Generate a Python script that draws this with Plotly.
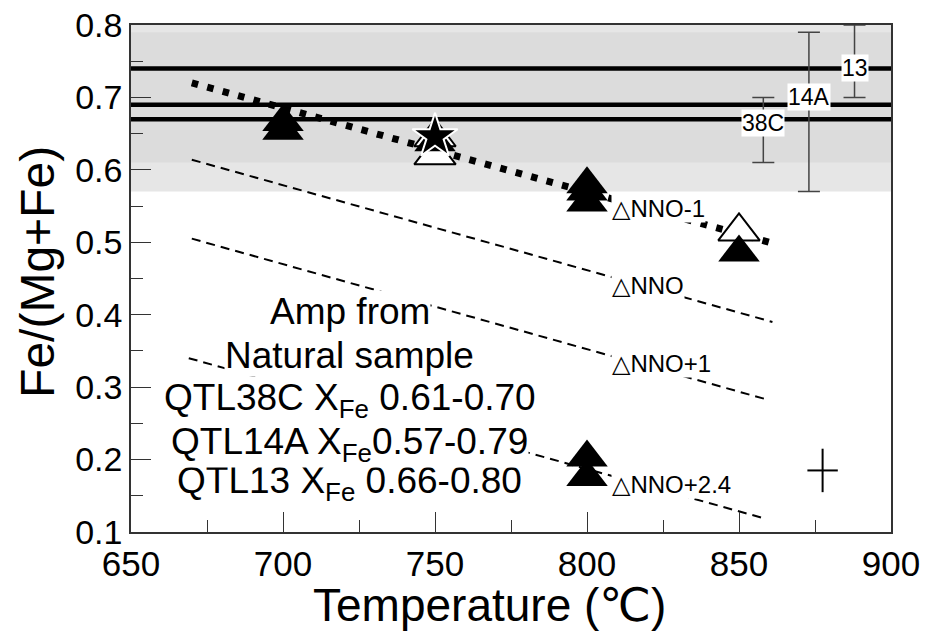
import plotly.graph_objects as go

# ---------------- data ----------------
# natural-sample amphibole X_Fe ranges (error bars at right)
sample_names = ["38C", "14A", "13"]
sample_low = [0.61, 0.57, 0.70]
sample_high = [0.70, 0.79, 0.80]
sample_bar_x = [858, 873, 888]
sample_label_y = [0.665, 0.70, 0.74]
mean_lines = [0.67, 0.69, 0.74]

# grey shading of natural range
band_outer = [0.57, 0.80]
band_inner = [0.61, 0.79]

# buffer trend lines
nno_m1_x = [670, 860]
nno_m1_y = [0.72, 0.50]
nno_x = [670, 861]
nno_y = [0.614, 0.39]
nno_p1_x = [670, 860]
nno_p1_y = [0.505, 0.282]
nno_p24_x = [669, 859]
nno_p24_y = [0.34, 0.118]

buffer_labels = ["△NNO-1", "△NNO", "△NNO+1", "△NNO+2.4"]
buffer_label_x = [808, 808, 808, 808]
buffer_label_y = [0.547, 0.441, 0.332, 0.165]

# experimental amphiboles
open_x = [750, 750, 850]
open_y = [0.645, 0.62, 0.515]
filled_x = [700, 700, 750, 800, 800, 800, 850, 800, 800]
filled_y = [0.666, 0.654, 0.638, 0.58, 0.57, 0.555, 0.486, 0.203, 0.176]
star_x = [750]
star_y = [0.646]

# representative error
err_x = [877.5]
err_y = [0.185]
err_dx = [5]
err_dy = [0.03]

note_lines = ["Amp from", "Natural sample",
              "QTL38C X<sub>Fe</sub> 0.61-0.70",
              "QTL14A X<sub>Fe</sub>0.57-0.79",
              "QTL13 X<sub>Fe</sub> 0.66-0.80"]
note_x = 722
note_y = [0.405, 0.344, 0.282, 0.222, 0.167]

x_ticks = [650, 700, 750, 800, 850, 900]
y_ticks = [0.1, 0.2, 0.3, 0.4, 0.5, 0.6, 0.7, 0.8]

FONT = "Liberation Sans, Arial, DejaVu Sans, Noto Sans CJK JP"

fig = go.Figure()

# grey bands
fig.add_shape(type="rect", xref="paper", x0=0, x1=1, yref="y",
              y0=band_outer[0], y1=band_outer[1], fillcolor="#e6e6e6",
              line_width=0, layer="below")
fig.add_shape(type="rect", xref="paper", x0=0, x1=1, yref="y",
              y0=band_inner[0], y1=band_inner[1], fillcolor="#dcdcdc",
              line_width=0, layer="below")

# thick mean lines
for v in mean_lines:
    fig.add_trace(go.Scatter(x=[650, 900], y=[v, v], mode="lines",
                             line=dict(color="black", width=4.5),
                             hoverinfo="skip", showlegend=False))

# sample error bars
mid = [(lo + hi) / 2 for lo, hi in zip(sample_low, sample_high)]
half = [(hi - lo) / 2 for lo, hi in zip(sample_low, sample_high)]
fig.add_trace(go.Scatter(x=sample_bar_x, y=mid, mode="markers",
                         marker=dict(size=1, color="rgba(0,0,0,0)"),
                         error_y=dict(type="data", array=half, visible=True,
                                      color="#444", thickness=1.5, width=11),
                         showlegend=False, hoverinfo="skip"))

# buffer lines
for xs, ys in [(nno_x, nno_y), (nno_p1_x, nno_p1_y), (nno_p24_x, nno_p24_y)]:
    fig.add_trace(go.Scatter(x=xs, y=ys, mode="lines",
                             line=dict(color="black", width=2, dash="9px,6px"),
                             showlegend=False, hoverinfo="skip"))
fig.add_trace(go.Scatter(x=nno_m1_x, y=nno_m1_y, mode="lines",
                         line=dict(color="black", width=7, dash="6.5px,9.5px"),
                         showlegend=False, hoverinfo="skip"))

# markers
fig.add_trace(go.Scatter(x=open_x, y=open_y, mode="markers",
                         marker=dict(symbol="triangle-up", size=36, color="white",
                                     line=dict(color="black", width=2)),
                         showlegend=False))
fig.add_trace(go.Scatter(x=filled_x, y=filled_y, mode="markers",
                         marker=dict(symbol="triangle-up", size=36, color="black",
                                     line=dict(color="black", width=0)),
                         showlegend=False))
fig.add_trace(go.Scatter(x=star_x, y=star_y, mode="markers",
                         marker=dict(symbol="star", size=34, color="black",
                                     line=dict(color="white", width=2)),
                         showlegend=False))

# representative error cross
fig.add_trace(go.Scatter(x=err_x, y=err_y, mode="markers",
                         marker=dict(size=1, color="rgba(0,0,0,0)"),
                         error_x=dict(type="data", array=err_dx, color="black",
                                      thickness=2, width=0),
                         error_y=dict(type="data", array=err_dy, color="black",
                                      thickness=2, width=0),
                         showlegend=False))

annotations = []
for name, x, y in zip(sample_names, sample_bar_x, sample_label_y):
    annotations.append(dict(x=x, y=y, text=name, showarrow=False,
                            font=dict(family=FONT, size=23, color="black"),
                            bgcolor="white", borderpad=0))
for t, x, y in zip(buffer_labels, buffer_label_x, buffer_label_y):
    annotations.append(dict(x=x, y=y, text=t, showarrow=False, xanchor="left",
                            font=dict(family=FONT, size=24, color="black"),
                            bgcolor="white", borderpad=0))
# bottom line first so that subscripts are not hidden by the next box
for t, y in reversed(list(zip(note_lines, note_y))):
    annotations.append(dict(x=note_x, y=y, text=t, showarrow=False,
                            font=dict(family=FONT, size=37, color="black"),
                            bgcolor="white", borderpad=0))

# axis titles
annotations.append(dict(xref="paper", yref="paper", x=0.472, y=-0.143,
                        xanchor="center", yanchor="middle",
                        text="Temperature (℃)", showarrow=False,
                        font=dict(family=FONT, size=46, color="black")))
annotations.append(dict(xref="paper", yref="paper", x=-0.123, y=0.512,
                        xanchor="center", yanchor="middle",
                        text="Fe/(Mg+Fe)", showarrow=False, textangle=-90,
                        font=dict(family=FONT, size=48, color="black")))

axis_common = dict(showgrid=False, zeroline=False, showline=True, mirror=True,
                   linecolor="#333", linewidth=1.5, ticks="inside", ticklen=20,
                   tickwidth=1, tickcolor="#333", automargin=False,
                   ticklabeloverflow="allow")

# page body has an 8px margin, so the figure is sized to sit inside 933x640
fig.update_layout(
    width=925, height=632,
    margin=dict(l=123, r=42, t=17, b=108),
    paper_bgcolor="white", plot_bgcolor="white",
    font=dict(family=FONT, color="black"),
    annotations=annotations,
    xaxis=dict(range=[650, 900], tickvals=x_ticks,
               tickfont=dict(size=35),
               minor=dict(dtick=25, tick0=650, ticklen=12, ticks="inside",
                          tickcolor="#333"),
               **axis_common),
    yaxis=dict(range=[0.1, 0.8], tickvals=y_ticks,
               tickformat=".1f", tickfont=dict(size=34),
               minor=dict(dtick=0.05, tick0=0.1, ticklen=12, ticks="inside",
                          tickcolor="#333"),
               **axis_common),
)

fig.write_html("out.html")
